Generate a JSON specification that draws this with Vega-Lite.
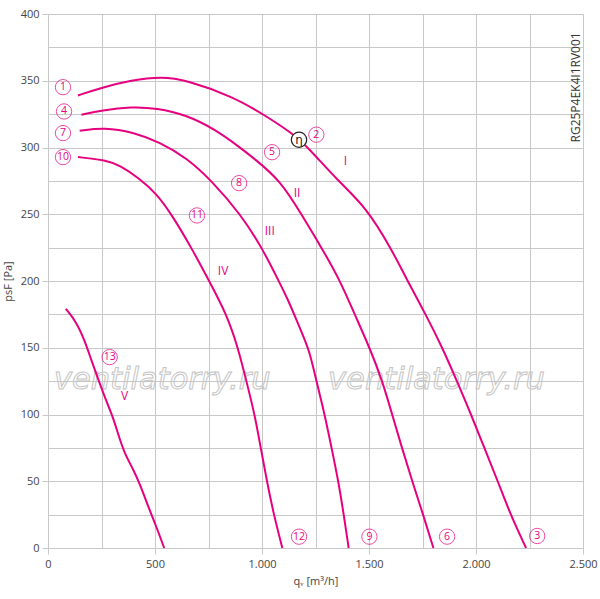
{
  "$schema": "https://vega.github.io/schema/vega-lite/v6.json",
  "width": 535,
  "height": 534,
  "autosize": {"type": "none"},
  "padding": {"left": 48, "top": 14, "right": 17, "bottom": 51},
  "background": "white",
  "datasets": {
    "curves": [
      {"c": "I", "q": 140, "p": 339}, {"c": "I", "q": 250, "p": 344.8}, {"c": "I", "q": 390, "p": 350.5},
      {"c": "I", "q": 530, "p": 353}, {"c": "I", "q": 647, "p": 350.5}, {"c": "I", "q": 865, "p": 338},
      {"c": "I", "q": 1005, "p": 325}, {"c": "I", "q": 1145, "p": 310.3}, {"c": "I", "q": 1215, "p": 300},
      {"c": "I", "q": 1355, "p": 275}, {"c": "I", "q": 1488, "p": 255}, {"c": "I", "q": 1605, "p": 224},
      {"c": "I", "q": 1680, "p": 200}, {"c": "I", "q": 1765, "p": 175}, {"c": "I", "q": 1843, "p": 150},
      {"c": "I", "q": 1911, "p": 125}, {"c": "I", "q": 1977, "p": 100}, {"c": "I", "q": 2039, "p": 75},
      {"c": "I", "q": 2102, "p": 50}, {"c": "I", "q": 2161, "p": 25}, {"c": "I", "q": 2234, "p": 0},
      {"c": "II", "q": 156, "p": 324.6}, {"c": "II", "q": 250, "p": 327.8}, {"c": "II", "q": 390, "p": 330.5},
      {"c": "II", "q": 507, "p": 329.5}, {"c": "II", "q": 647, "p": 324.5},
      {"c": "II", "q": 787, "p": 313}, {"c": "II", "q": 893, "p": 300.5}, {"c": "II", "q": 958, "p": 292.5},
      {"c": "II", "q": 1088, "p": 275}, {"c": "II", "q": 1184, "p": 250}, {"c": "II", "q": 1278, "p": 225},
      {"c": "II", "q": 1363, "p": 201}, {"c": "II", "q": 1433, "p": 175}, {"c": "II", "q": 1503, "p": 150},
      {"c": "II", "q": 1563, "p": 125}, {"c": "II", "q": 1608, "p": 100}, {"c": "II", "q": 1654, "p": 75},
      {"c": "II", "q": 1702, "p": 50}, {"c": "II", "q": 1753, "p": 25}, {"c": "II", "q": 1801, "p": 0},
      {"c": "III", "q": 148, "p": 312.5}, {"c": "III", "q": 265, "p": 315}, {"c": "III", "q": 397, "p": 311.5},
      {"c": "III", "q": 522, "p": 304}, {"c": "III", "q": 650, "p": 292},
      {"c": "III", "q": 765, "p": 275}, {"c": "III", "q": 900, "p": 250}, {"c": "III", "q": 1000, "p": 225},
      {"c": "III", "q": 1078, "p": 200}, {"c": "III", "q": 1122, "p": 186}, {"c": "III", "q": 1176, "p": 165},
      {"c": "III", "q": 1222, "p": 148}, {"c": "III", "q": 1254, "p": 125}, {"c": "III", "q": 1293, "p": 100},
      {"c": "III", "q": 1325, "p": 75}, {"c": "III", "q": 1357, "p": 50}, {"c": "III", "q": 1382, "p": 25},
      {"c": "III", "q": 1405, "p": 0},
      {"c": "IV", "q": 140, "p": 292.8}, {"c": "IV", "q": 273, "p": 290.5}, {"c": "IV", "q": 335, "p": 286.6},
      {"c": "IV", "q": 429, "p": 276.6}, {"c": "IV", "q": 507, "p": 265.4}, {"c": "IV", "q": 577, "p": 250},
      {"c": "IV", "q": 670, "p": 225}, {"c": "IV", "q": 753, "p": 200}, {"c": "IV", "q": 835, "p": 175},
      {"c": "IV", "q": 888, "p": 150}, {"c": "IV", "q": 927, "p": 125}, {"c": "IV", "q": 966, "p": 100},
      {"c": "IV", "q": 994, "p": 75}, {"c": "IV", "q": 1023, "p": 50}, {"c": "IV", "q": 1055, "p": 25},
      {"c": "IV", "q": 1095, "p": 0},
      {"c": "V", "q": 83, "p": 179.2}, {"c": "V", "q": 133, "p": 169.2}, {"c": "V", "q": 171, "p": 155.5},
      {"c": "V", "q": 203, "p": 140.5}, {"c": "V", "q": 234, "p": 126.8}, {"c": "V", "q": 265, "p": 113},
      {"c": "V", "q": 304, "p": 98}, {"c": "V", "q": 327, "p": 85.6}, {"c": "V", "q": 358, "p": 70.6},
      {"c": "V", "q": 397, "p": 59.4}, {"c": "V", "q": 429, "p": 48.2}, {"c": "V", "q": 475, "p": 28.2},
      {"c": "V", "q": 507, "p": 15.7}, {"c": "V", "q": 543, "p": 0}
    ],
    "numbers": [
      {"t": "1", "q": 70, "p": 345.2}, {"t": "4", "q": 75, "p": 327}, {"t": "7", "q": 70, "p": 310.8},
      {"t": "10", "q": 70, "p": 292.8}, {"t": "2", "q": 1254, "p": 309.6}, {"t": "5", "q": 1047, "p": 296.5},
      {"t": "8", "q": 893, "p": 273.3}, {"t": "11", "q": 696, "p": 249.1}, {"t": "13", "q": 288, "p": 143},
      {"t": "12", "q": 1173, "p": 8.5}, {"t": "9", "q": 1502, "p": 8.5}, {"t": "6", "q": 1865, "p": 8.5},
      {"t": "3", "q": 2286, "p": 9}
    ],
    "romans": [
      {"t": "I", "q": 1390, "p": 289.8}, {"t": "II", "q": 1164, "p": 265.8}, {"t": "III", "q": 1036, "p": 237.4},
      {"t": "IV", "q": 818, "p": 207.4}, {"t": "V", "q": 358, "p": 113.5}
    ],
    "eta": [{"t": "η", "q": 1173, "p": 305.8}],
    "watermark": [{"t": "ventilatorry.ru", "q": 534, "p": 125.5}, {"t": "ventilatorry.ru", "q": 1815, "p": 125.5}],
    "code": [{"t": "RG25P4EK4I1RV001", "q": 2466, "p": 345}]
  },
  "resolve": {"axis": {"x": "independent", "y": "independent"}},
  "layer": [
    {
      "data": {"name": "watermark"},
      "mark": {"type": "text", "font": "DejaVu Sans", "fontStyle": "italic", "fontSize": 30.5, "fill": "transparent", "stroke": "#c4c4c4", "strokeWidth": 1, "baseline": "middle", "align": "center"},
      "encoding": {
        "x": {"field": "q", "type": "quantitative", "scale": {"domain": [0, 2500], "nice": false},
          "axis": {"orient": "top", "values": [0, 250, 500, 750, 1000, 1250, 1500, 1750, 2000, 2250, 2500], "grid": true, "labels": false, "ticks": false, "domain": false, "title": null}},
        "y": {"field": "p", "type": "quantitative", "scale": {"domain": [0, 400], "nice": false},
          "axis": {"orient": "right", "values": [0, 25, 50, 75, 100, 125, 150, 175, 200, 225, 250, 275, 300, 325, 350, 375, 400], "grid": true, "labels": false, "ticks": false, "domain": false, "title": null}},
        "text": {"field": "t"}
      }
    },
    {
      "data": {"name": "curves"},
      "mark": {"type": "line", "color": "#e6007e", "strokeWidth": 2, "interpolate": "basis"},
      "encoding": {
        "x": {"field": "q", "type": "quantitative",
          "axis": {"orient": "bottom", "values": [0, 500, 1000, 1500, 2000, 2500], "grid": false, "domain": false, "tickSize": 6, "labelPadding": 4, "labelFlush": false, "labelExpr": "replace(format(datum.value, ','), ',', '.')", "title": "qᵥ [m³/h]", "titlePadding": 6}},
        "y": {"field": "p", "type": "quantitative",
          "axis": {"orient": "left", "values": [0, 50, 100, 150, 200, 250, 300, 350, 400], "grid": false, "domain": false, "tickSize": 6, "labelPadding": 3, "labelFlush": false, "title": "psF [Pa]", "titlePadding": 7}},
        "detail": {"field": "c"}
      }
    },
    {
      "data": {"name": "numbers"},
      "mark": {"type": "point", "shape": "circle", "size": 235, "filled": false, "stroke": "#e6007e", "strokeWidth": 1},
      "encoding": {
        "x": {"field": "q", "type": "quantitative", "axis": null},
        "y": {"field": "p", "type": "quantitative", "axis": null}
      }
    },
    {
      "data": {"name": "numbers"},
      "mark": {"type": "text", "font": "Open Sans", "fontSize": 10.5, "color": "#e6007e", "baseline": "middle", "align": "center"},
      "encoding": {
        "x": {"field": "q", "type": "quantitative", "axis": null},
        "y": {"field": "p", "type": "quantitative", "axis": null},
        "text": {"field": "t"}
      }
    },
    {
      "data": {"name": "romans"},
      "mark": {"type": "text", "font": "Open Sans", "fontSize": 12, "color": "#e6007e", "baseline": "middle", "align": "center"},
      "encoding": {
        "x": {"field": "q", "type": "quantitative", "axis": null},
        "y": {"field": "p", "type": "quantitative", "axis": null},
        "text": {"field": "t"}
      }
    },
    {
      "data": {"name": "eta"},
      "mark": {"type": "point", "shape": "circle", "size": 235, "filled": false, "fill": "white", "fillOpacity": 1, "stroke": "#222222", "strokeWidth": 1.2},
      "encoding": {
        "x": {"field": "q", "type": "quantitative", "axis": null},
        "y": {"field": "p", "type": "quantitative", "axis": null}
      }
    },
    {
      "data": {"name": "eta"},
      "mark": {"type": "text", "font": "DejaVu Sans", "fontSize": 12, "color": "#222222", "baseline": "middle", "align": "center"},
      "encoding": {
        "x": {"field": "q", "type": "quantitative", "axis": null},
        "y": {"field": "p", "type": "quantitative", "axis": null},
        "text": {"field": "t"}
      }
    },
    {
      "data": {"name": "code"},
      "mark": {"type": "text", "font": "Open Sans", "fontSize": 12, "color": "#333333", "angle": 270, "baseline": "middle", "align": "center"},
      "encoding": {
        "x": {"field": "q", "type": "quantitative", "axis": null},
        "y": {"field": "p", "type": "quantitative", "axis": null},
        "text": {"field": "t"}
      }
    }
  ],
  "config": {
    "view": {"stroke": null},
    "axis": {
      "gridColor": "#c8c8c8",
      "gridWidth": 1,
      "gridOpacity": 1,
      "tickColor": "#c8c8c8",
      "tickWidth": 1,
      "labelFont": "Open Sans",
      "labelFontSize": 11,
      "labelColor": "#444444",
      "titleFont": "Open Sans",
      "titleFontSize": 11,
      "titleFontWeight": "normal",
      "titleColor": "#444444"
    }
  }
}
